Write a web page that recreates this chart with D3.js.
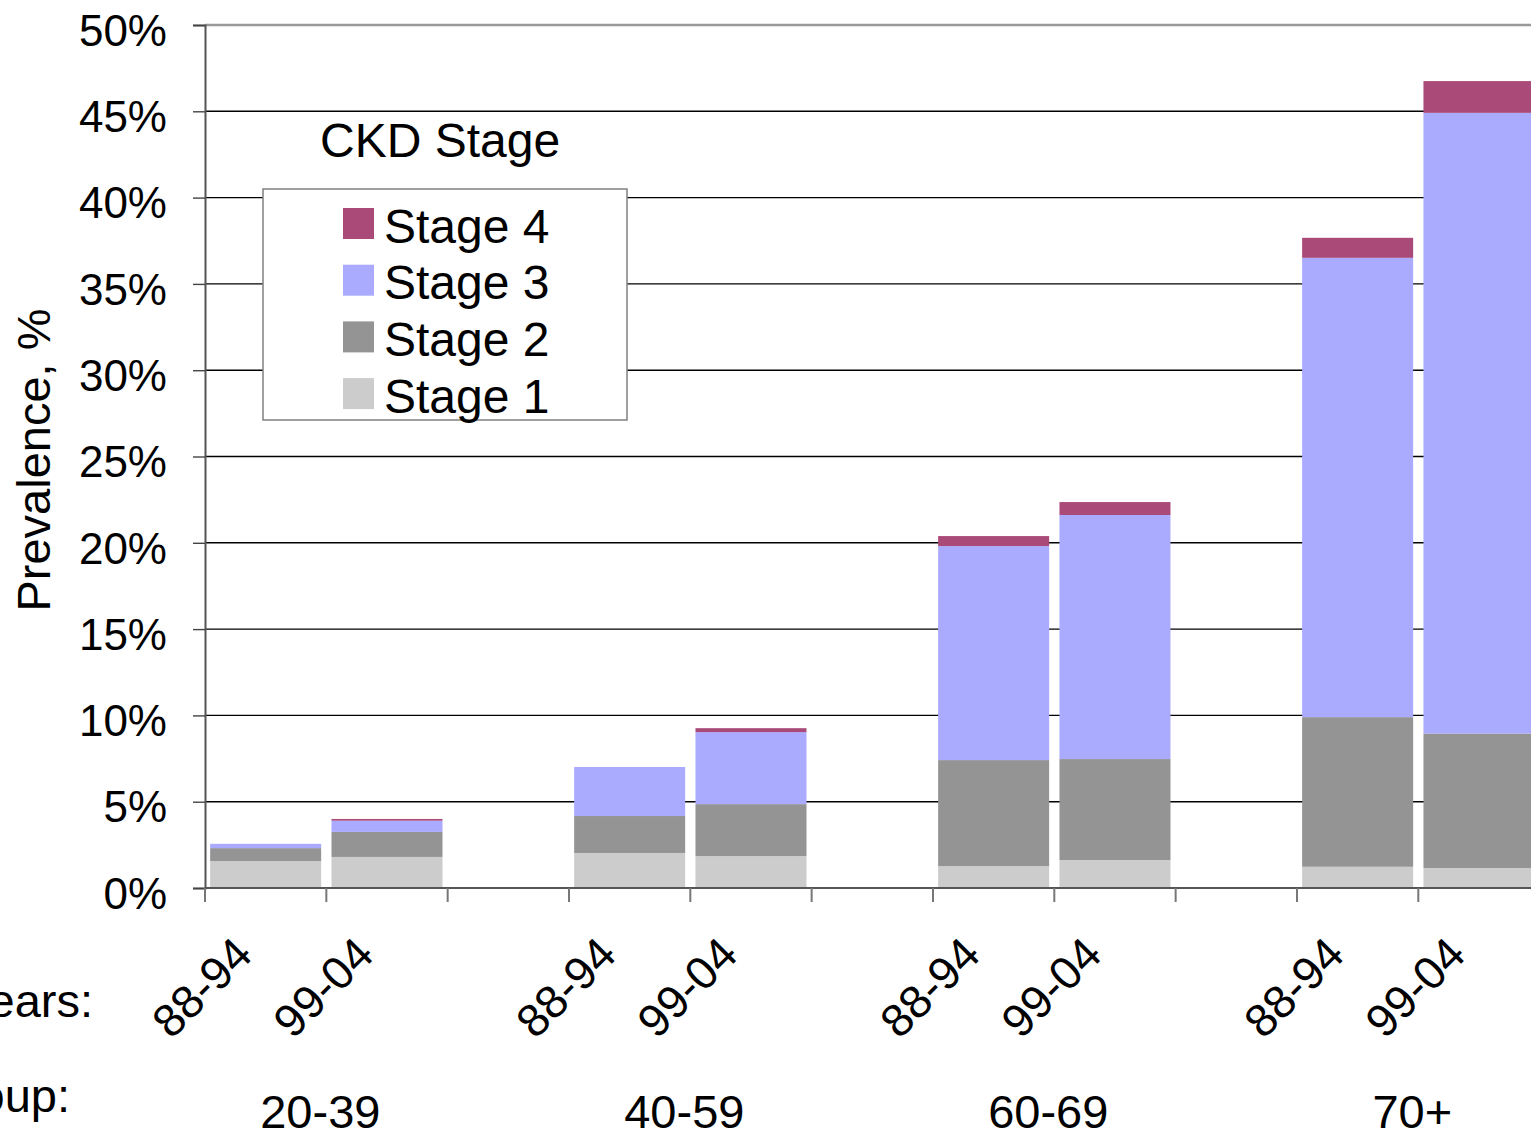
<!DOCTYPE html>
<html>
<head>
<meta charset="utf-8">
<script src="https://cdn.jsdelivr.net/npm/d3@7"></script>
<style>
  html, body { margin: 0; padding: 0; background: #fff; overflow: hidden; }
  svg { display: block; font-family: "Liberation Sans", Arial, sans-serif; }
</style>
</head>
<body>
<svg id="chart" width="1531" height="1132"></svg>
<script>
// Age groups and survey periods (NHANES 1988-94 vs 1999-04)
const ageGroups = ["20-39", "40-59", "60-69", "70+"];
const periods = ["88-94", "99-04"];

// Prevalence (%) by CKD stage, ordered group by group, 88-94 then 99-04
const stage1 = [1.56, 1.80, 2.03, 1.85, 1.27, 1.62, 1.23, 1.16];
const stage2 = [0.75, 1.45, 2.14, 3.01, 6.14, 5.85, 8.67, 7.79];
const stage3 = [0.25, 0.65, 2.84, 4.17, 12.40, 14.14, 26.61, 35.96];
const stage4 = [0.00, 0.10, 0.00, 0.23, 0.58, 0.75, 1.16, 1.84];

const stageNames = ["Stage 1", "Stage 2", "Stage 3", "Stage 4"];
const stageColors = ["#cccccc", "#949494", "#aaaaff", "#a94a78"];
const yTicks = [0, 5, 10, 15, 20, 25, 30, 35, 40, 45, 50];

// Each age group takes three category slots: two bars and a spacer
const slotsPerGroup = 3;
const nSlots = ageGroups.length * slotsPerGroup;

const rows = [];
ageGroups.forEach((g, gi) => {
  periods.forEach((p, pi) => {
    const i = gi * periods.length + pi;
    rows.push({
      slot: gi * slotsPerGroup + pi,
      group: g, period: p,
      "Stage 1": stage1[i], "Stage 2": stage2[i],
      "Stage 3": stage3[i], "Stage 4": stage4[i]
    });
  });
});

const svg = d3.select("#chart");
const plotLeft = 205, plotTop = 25, plotBottom = 888;
const slotWidth = 121.33;
const plotRight = plotLeft + nSlots * slotWidth;

const x = d3.scaleBand()
  .domain(d3.range(nSlots))
  .range([plotLeft, plotRight])
  .paddingInner(0.085)
  .paddingOuter(0.0425);

const y = d3.scaleLinear().domain([0, 50]).range([plotBottom, plotTop]);

// Horizontal gridlines
svg.append("g").selectAll("line")
  .data(yTicks.filter(d => d > 0 && d < 50))
  .join("line")
  .attr("x1", plotLeft).attr("x2", plotRight)
  .attr("y1", d => y(d)).attr("y2", d => y(d))
  .attr("stroke", "#000").attr("stroke-width", 1.4);

// Plot-area top edge
svg.append("line")
  .attr("x1", plotLeft).attr("x2", plotRight)
  .attr("y1", y(50)).attr("y2", y(50))
  .attr("stroke", "#999").attr("stroke-width", 2.5);

// Stacked bars
const stack = d3.stack().keys(stageNames);
const series = stack(rows);
svg.append("g").selectAll("g")
  .data(series)
  .join("g")
  .attr("fill", (d, i) => stageColors[i])
  .selectAll("rect")
  .data(d => d)
  .join("rect")
  .attr("x", d => x(d.data.slot))
  .attr("width", x.bandwidth())
  .attr("y", d => y(d[1]))
  .attr("height", d => y(d[0]) - y(d[1]));

// Y axis
const yAxis = d3.axisLeft(y)
  .tickValues(yTicks)
  .tickSize(12)
  .tickPadding(26)
  .tickFormat(d => d + "%");
const ya = svg.append("g")
  .attr("transform", `translate(${plotLeft},0)`)
  .call(yAxis);
ya.select(".domain").attr("stroke", "#555").attr("stroke-width", 2);
ya.selectAll(".tick line").attr("stroke", "#444").attr("stroke-width", 1.4);
ya.selectAll(".tick text")
  .attr("font-size", 44)
  .attr("font-family", "Liberation Sans, Arial, sans-serif")
  .attr("fill", "#000")
  .attr("dy", "0.46em");

// X axis line and slot-boundary ticks
svg.append("line")
  .attr("x1", plotLeft).attr("x2", plotRight)
  .attr("y1", plotBottom).attr("y2", plotBottom)
  .attr("stroke", "#555").attr("stroke-width", 2.2);
svg.append("g").selectAll("line")
  .data(d3.range(nSlots + 1))
  .join("line")
  .attr("x1", i => plotLeft + i * x.step())
  .attr("x2", i => plotLeft + i * x.step())
  .attr("y1", plotBottom).attr("y2", plotBottom + 14)
  .attr("stroke", "#777").attr("stroke-width", 2);

// Rotated period labels
svg.append("g").selectAll("text")
  .data(rows)
  .join("text")
  .attr("transform", d => `translate(${x(d.slot) + x.bandwidth() / 2 - 11},957) rotate(-45)`)
  .attr("text-anchor", "end")
  .attr("font-size", 46)
  .attr("fill", "#000")
  .text(d => d.period);

// Age group labels, centred under each pair of bars
svg.append("g").selectAll("text")
  .data(ageGroups)
  .join("text")
  .attr("x", (g, gi) => (x(gi * slotsPerGroup) + x(gi * slotsPerGroup + 1) + x.bandwidth()) / 2 - 6)
  .attr("y", 1128)
  .attr("text-anchor", "middle")
  .attr("font-size", 47)
  .attr("fill", "#000")
  .text(g => g);

// Row captions at the left edge
svg.append("text")
  .attr("x", 93).attr("y", 1017)
  .attr("text-anchor", "end")
  .attr("font-size", 47)
  .text("Years:");
svg.append("text")
  .attr("x", 70).attr("y", 1112)
  .attr("text-anchor", "end")
  .attr("font-size", 47)
  .text("Age group:");

// Y axis title
svg.append("text")
  .attr("transform", "translate(50,460) rotate(-90)")
  .attr("text-anchor", "middle")
  .attr("font-size", 47)
  .text("Prevalence, %");

// Legend
svg.append("text")
  .attr("x", 320).attr("y", 157)
  .attr("font-size", 48)
  .text("CKD Stage");
svg.append("rect")
  .attr("x", 263).attr("y", 189)
  .attr("width", 364).attr("height", 231)
  .attr("fill", "#fff")
  .attr("stroke", "#808080").attr("stroke-width", 1.5);
const legendOrder = stageNames.map((s, i) => ({ name: s, color: stageColors[i] })).reverse();
const li = svg.append("g").selectAll("g")
  .data(legendOrder)
  .join("g")
  .attr("transform", (d, i) => `translate(343,${208 + i * 56.7})`);
li.append("rect")
  .attr("width", 31).attr("height", 31)
  .attr("fill", d => d.color);
li.append("text")
  .attr("x", 41).attr("y", 34.5)
  .attr("font-size", 48)
  .text(d => d.name);
</script>
</body>
</html>
